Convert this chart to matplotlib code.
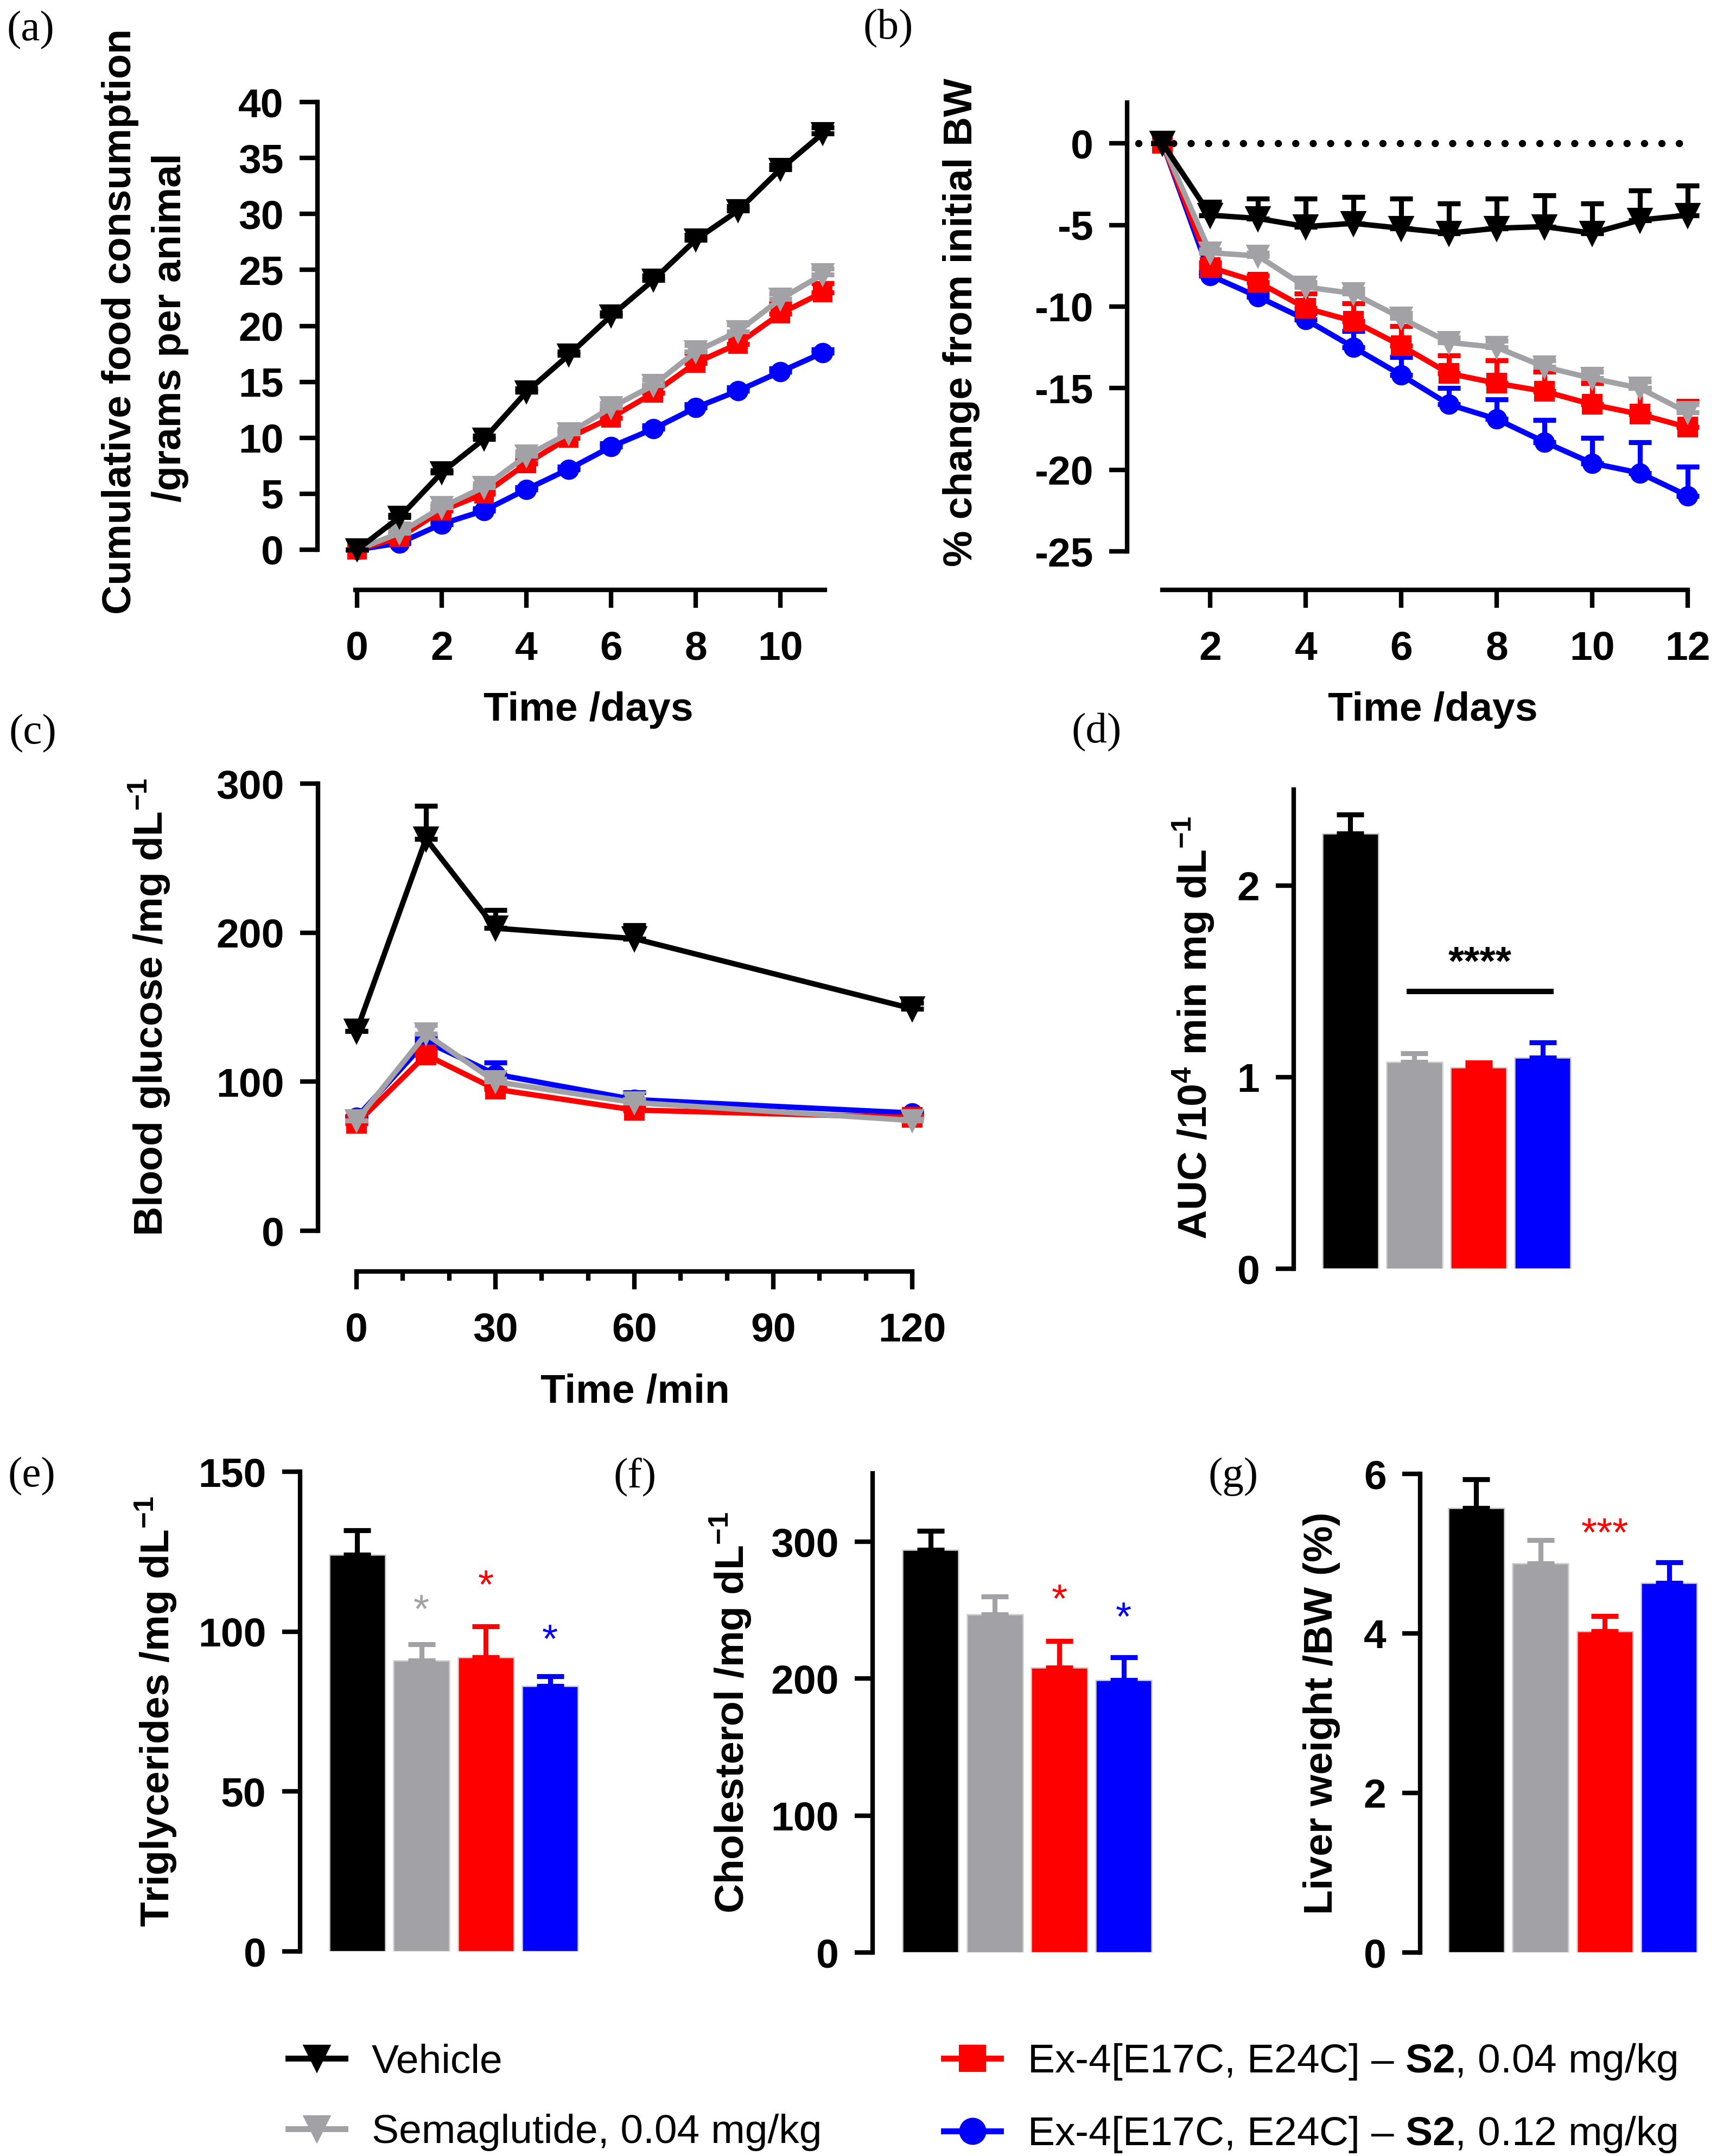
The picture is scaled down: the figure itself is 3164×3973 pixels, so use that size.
import numpy as np
import matplotlib
matplotlib.use('Agg')
import matplotlib.pyplot as plt
from matplotlib.lines import Line2D
from matplotlib.ticker import MultipleLocator

plt.rcParams['font.family'] = ['Liberation Sans', 'DejaVu Sans']
plt.rcParams['font.weight'] = 'bold'
plt.rcParams['axes.unicode_minus'] = False
plt.rcParams['mathtext.fontset'] = 'custom'
plt.rcParams['mathtext.rm'] = 'Liberation Sans:bold'
plt.rcParams['mathtext.bf'] = 'Liberation Sans:bold'

W, H, DPI = 3164, 3973, 300

BLACK = '#000000'
GREY = '#A2A2A6'
RED = '#FF0000'
BLUE = '#0000FF'
colors = [BLACK, GREY, RED, BLUE]
markers = ['v', 'v', 's', 'o']
groups = ['Vehicle', 'Semaglutide, 0.04 mg/kg',
          'Ex-4[E17C, E24C] – $\\mathbf{S2}$, 0.04 mg/kg',
          'Ex-4[E17C, E24C] – $\\mathbf{S2}$, 0.12 mg/kg']

# (a) cumulative food consumption
days_a = [0, 1, 2, 3, 4, 5, 6, 7, 8, 9, 10, 11]
food_veh = [0, 2.9, 6.9, 9.9, 14.1, 17.4, 20.9, 24.1, 27.7, 30.3, 34.0, 37.2]
food_sema = [0, 1.5, 3.8, 5.6, 8.4, 10.4, 12.7, 14.7, 17.7, 19.5, 22.4, 24.6]
food_s2lo = [0, 1.1, 3.5, 5.0, 7.7, 10.0, 11.8, 14.0, 16.7, 18.4, 21.1, 23.0]
food_s2hi = [0, 0.6, 2.3, 3.5, 5.4, 7.2, 9.2, 10.8, 12.7, 14.2, 15.9, 17.6]
food_veh_err = [0, 0.2, 0.2, 0.3, 0.3, 0.3, 0.3, 0.4, 0.4, 0.4, 0.4, 0.5]
food_sema_err = [0, 0.2, 0.3, 0.3, 0.4, 0.4, 0.4, 0.5, 0.6, 0.6, 0.5, 0.5]
food_s2lo_err = [0, 0.3, 0.4, 0.4, 0.5, 0.6, 0.6, 0.7, 0.9, 0.8, 0.9, 0.8]
food_s2hi_err = [0, 0.1, 0.2, 0.2, 0.2, 0.2, 0.3, 0.3, 0.3, 0.3, 0.3, 0.3]

# (b) % change in body weight
days_b = [1, 2, 3, 4, 5, 6, 7, 8, 9, 10, 11, 12]
bw_veh = [0, -4.4, -4.6, -5.1, -4.9, -5.2, -5.5, -5.2, -5.1, -5.5, -4.7, -4.4]
bw_sema = [0, -6.7, -6.9, -8.8, -9.2, -10.7, -12.2, -12.5, -13.7, -14.4, -15.0, -16.5]
bw_s2lo = [0, -7.6, -8.5, -10.1, -10.9, -12.4, -14.1, -14.7, -15.2, -16.0, -16.6, -17.4]
bw_s2hi = [0, -8.1, -9.4, -10.8, -12.5, -14.2, -16.0, -16.9, -18.3, -19.6, -20.2, -21.6]
bw_veh_err = [0, 0.8, 1.2, 1.7, 1.6, 1.8, 1.8, 1.8, 1.9, 1.8, 1.8, 1.8]
bw_sema_err = [0, 0.2, 0.2, 0.3, 0.3, 0.3, 0.3, 0.4, 0.4, 0.4, 0.4, 0.5]
bw_s2lo_err = [0, 0.3, 0.4, 0.9, 1.1, 1.2, 1.1, 1.4, 1.2, 1.3, 1.6, 1.6]
bw_s2hi_err = [0, 0.2, 0.3, 0.4, 1.0, 1.1, 1.0, 1.2, 1.35, 1.55, 1.9, 1.8]

# (c) blood glucose
time_c = [0, 15, 30, 60, 120]
glu_veh = [134, 263, 203, 196, 149]
glu_sema = [74, 132, 100, 86, 74]
glu_s2lo = [72, 118, 95, 81, 76]
glu_s2hi = [76, 127, 105, 88, 79]
glu_veh_err = [0, 22, 12, 9, 4]
glu_sema_err = [0, 6, 2, 2, 1]
glu_s2lo_err = [1, 3, 2, 2, 1]
glu_s2hi_err = [1, 3, 8, 5, 1]

# (d)-(g) bar panels
auc = [2.27, 1.08, 1.05, 1.10]
auc_err = [0.10, 0.045, 0.027, 0.08]
tg = [124, 91, 92, 83]
tg_err = [7.7, 5, 9.7, 3]
chol = [294, 247, 208, 199]
chol_err = [14, 13, 19.7, 16.7]
liver = [5.57, 4.88, 4.03, 4.63]
liver_err = [0.36, 0.29, 0.19, 0.26]

fig = plt.figure(figsize=(W / DPI, H / DPI), dpi=DPI)


def add_ax(left, top, right, bottom):
    return fig.add_axes([left / W, 1 - bottom / H, (right - left) / W, (bottom - top) / H])


def style(ax, left_out=0, bottom_out=0, bottom=True):
    for s in ['top', 'right']:
        ax.spines[s].set_visible(False)
    ax.spines['left'].set_linewidth(2)
    ax.spines['left'].set_position(('outward', left_out * 0.24))
    if bottom:
        ax.spines['bottom'].set_linewidth(2)
        ax.spines['bottom'].set_position(('outward', bottom_out * 0.24))
    else:
        ax.spines['bottom'].set_visible(False)
        ax.set_xticks([])
    ax.tick_params(axis='both', width=2, length=8, labelsize=18)
    ax.tick_params(axis='y', pad=7)
    ax.tick_params(axis='x', pad=10)
    for lab in ax.get_xticklabels() + ax.get_yticklabels():
        lab.set_fontweight('bold')


def lines(ax, x, series, errs, ms):
    order = [3, 2, 1, 0]
    for i in order:
        ax.errorbar(x, series[i], yerr=[np.zeros(len(x)), errs[i]], fmt='none',
                    ecolor=colors[i], elinewidth=2.2, capsize=5, capthick=2.2,
                    zorder=2 + (3 - i), clip_on=False)
        m = ms[i]
        ax.plot(x, series[i], color=colors[i], marker=markers[i], ms=m, lw=2.4,
                zorder=3 + (3 - i), clip_on=False)


def bars(ax, vals, errs):
    xs = np.arange(4)
    ax.bar(xs, vals, width=0.87, color=colors, edgecolor='#d0d0d0', linewidth=0.6)
    for i in range(4):
        ax.errorbar(xs[i], vals[i], yerr=[[0], [errs[i]]], fmt='none', ecolor=colors[i],
                    elinewidth=2.2, capsize=6, capthick=2.2)


def ylab(x, y, s):
    fig.text(x / W, 1 - y / H, s, rotation=90, ha='center', va='center',
             fontsize=18, fontweight='bold')


def xlab(x, y, s):
    fig.text(x / W, 1 - y / H, s, ha='center', va='center', fontsize=18, fontweight='bold')


def plabel(x, y, s):
    fig.text(x / W, 1 - y / H, s, ha='left', va='center', fontsize=19,
             family='Liberation Serif', fontweight='normal')


# ---- (a)
ax = add_ax(655, 188, 1520, 1013)
lines(ax, days_a, [food_veh, food_sema, food_s2lo, food_s2hi],
      [food_veh_err, food_sema_err, food_s2lo_err, food_s2hi_err], [9, 9, 7.5, 8])
ax.set_xlim(-0.04, 11.05)
ax.set_ylim(0, 40)
ax.set_xticks([0, 2, 4, 6, 8, 10])
ax.set_yticks(range(0, 41, 5))
style(ax, 70, 74)
ylab(222, 592, 'Cumulative food consumption')
ylab(314, 604, '/grams per animal')
xlab(1084, 1309, 'Time /days')
plabel(12, 56, '(a)')

# ---- (b)
ax = add_ax(2094, 189, 3110, 1016)
ax.plot([0.5, 12], [0, 0], color=BLACK, lw=3.2, ls=(0, (0.01, 2.4)),
        dash_capstyle='round', zorder=1, clip_on=False)
lines(ax, days_b, [bw_veh, bw_sema, bw_s2lo, bw_s2hi],
      [bw_veh_err, bw_sema_err, bw_s2lo_err, bw_s2hi_err], [10, 9, 8, 8])
ax.set_xlim(0.45, 12)
ax.set_ylim(-25, 2.5)
ax.set_xticks([2, 4, 6, 8, 10, 12])
ax.set_yticks([0, -5, -10, -15, -20, -25])
style(ax, 17, 71)
ax.spines['bottom'].set_bounds(1, 12)
ylab(1772, 594, '% change from initial BW')
xlab(2640, 1309, 'Time /days')
plabel(1591, 53, '(b)')

# ---- (c)
ax = add_ax(657, 1444, 1681, 2268)
lines(ax, time_c, [glu_veh, glu_sema, glu_s2lo, glu_s2hi],
      [glu_veh_err, glu_sema_err, glu_s2lo_err, glu_s2hi_err], [10, 9, 8, 8])
ax.set_xlim(0, 120)
ax.set_ylim(0, 300)
ax.set_xticks([0, 30, 60, 90, 120])
ax.xaxis.set_minor_locator(MultipleLocator(10))
ax.set_yticks([0, 100, 200, 300])
style(ax, 71, 75)
ax.tick_params(axis='x', which='minor', width=2, length=4)
ylab(276, 1856, 'Blood glucose /mg dL$^{-1}$')
xlab(1170, 2565, 'Time /min')
plabel(16, 1352, '(c)')

# ---- (d)
ax = add_ax(2384, 1455, 2902, 2338)
bars(ax, auc, auc_err)
ax.set_xlim(-0.88, 3.5)
ax.set_ylim(0, 2.5)
ax.set_yticks([0, 1, 2])
style(ax, bottom=False)
ax.plot([0.92, 3.13], [1.448, 1.448], color=BLACK, lw=2.4)
ax.text(2.02, 1.69, '****', ha='center', va='top', fontsize=18, fontweight='bold')
ylab(2200, 1894, 'AUC /10$^{4}$ min mg dL$^{-1}$')
plabel(1975, 1350, '(d)')

# ---- (e)
ax = add_ax(553, 2712, 1073, 3596)
bars(ax, tg, tg_err)
ax.set_xlim(-0.89, 3.5)
ax.set_ylim(0, 150)
ax.set_yticks([0, 50, 100, 150])
style(ax, bottom=False)
for i, top in zip([1, 2, 3], [112, 119.6, 102.7]):
    ax.text(i, top, '*', color=colors[i], ha='center', va='top', fontsize=18,
            fontweight='normal')
ylab(288, 3154, 'Triglycerides /mg dL$^{-1}$')
plabel(15, 2721, '(e)')

# ---- (f)
ax = add_ax(1608, 2715, 2130, 3598)
bars(ax, chol, chol_err)
ax.set_xlim(-0.9, 3.5)
ax.set_ylim(0, 350)
ax.set_yticks([0, 100, 200, 300])
style(ax, bottom=False)
for i, top in zip([2, 3], [270, 257]):
    ax.text(i, top, '*', color=colors[i], ha='center', va='top', fontsize=18,
            fontweight='normal')
ylab(1347, 3156, 'Cholesterol /mg dL$^{-1}$')
plabel(1130, 2721, '(f)')

# ---- (g)
ax = add_ax(2617, 2716, 3135, 3598)
bars(ax, liver, liver_err)
ax.set_xlim(-0.87, 3.5)
ax.set_ylim(0, 6)
ax.set_yticks([0, 2, 4, 6])
style(ax, bottom=False)
ax.text(2, 5.46, '***', color=RED, ha='center', va='top', fontsize=18, fontweight='normal')
ylab(2435, 3157, 'Liver weight /BW (%)')
plabel(2226, 2721, '(g)')

# ---- legend
handles = [Line2D([], [], color=colors[i], marker=markers[i], lw=2.6, ms=11)
           for i in range(4)]
fig.legend(handles, groups, loc='upper left', bbox_to_anchor=(531 / W, 1 - 3763 / H),
           ncol=2, frameon=False, borderpad=0, borderaxespad=0, handlelength=1.4,
           handletextpad=0.65, columnspacing=3.0, labelspacing=0.82,
           prop={'family': 'Liberation Sans', 'weight': 'normal', 'size': 18})

fig.savefig('out.png', dpi=DPI)
